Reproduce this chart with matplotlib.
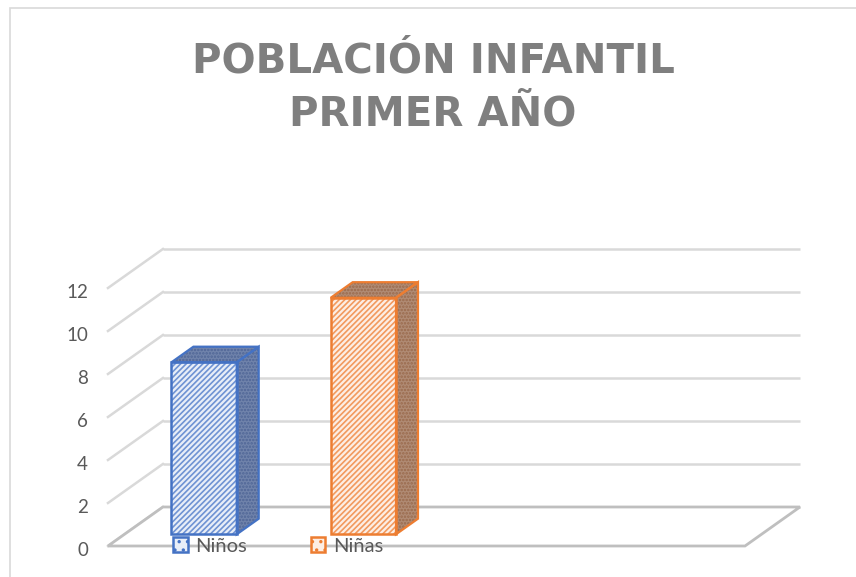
import matplotlib
matplotlib.use('Agg')
import matplotlib.pyplot as plt
from matplotlib.patches import Polygon, Rectangle, Patch

# data
categories = ['Niños', 'Niñas']
values = [8, 11]
yticks = [0, 2, 4, 6, 8, 10, 12]
title = 'POBLACIÓN INFANTIL\nPRIMER AÑO'

# style
edge_cols = ['#4472C4', '#ED7D31']
face_cols = ['#e8eef8', '#fdeee4']
hatch_cols = ['#6f93d3', '#f29a5e']
side_cols = ['#7083ab', '#b08b74']
side_hatch = ['#4f6596', '#9a6a4c']
grid_col = '#d9d9d9'
text_col = '#595959'

plt.rcParams['hatch.linewidth'] = 1.2

fig = plt.figure(figsize=(8.56, 5.77), dpi=100)
ax = fig.add_axes([0, 0, 1, 1])
ax.set_xlim(-0.678, 4.697)
ax.set_ylim(-1.442, 25.395)
ax.axis('off')

# 3d layout: floor goes from x=0..4 at front, depth offset DX, DY
X0, X1 = 0.0, 4.0
DX, DY = 0.345, 1.814
xpos = [0.5, 1.5]
bw = 0.41
d0, dd = 0.3, 0.4

# outer chart border
fig.patches.append(Rectangle((10 / 856, -0.1), 1.2, (577 - 8) / 577 + 0.1, transform=fig.transFigure,
                             fill=False, ec='#d9d9d9', lw=1.2))

# back wall gridlines and left wall diagonals
for v in yticks:
    ax.plot([X0 + DX, X1 + DX], [v + DY, v + DY], color=grid_col, lw=1.8, zorder=1, solid_capstyle='butt')
    ax.plot([X0, X0 + DX], [v, v + DY], color=grid_col, lw=1.8, zorder=1)
    ax.text(X0 - 0.125, v - 0.2, str(v), ha='right', va='center', fontsize=13.5, color=text_col, family='Lato')

# floor
floor = Polygon([(X0, 0), (X1, 0), (X1 + DX, DY), (X0 + DX, DY)], closed=True,
                fc='white', ec='#bfbfbf', lw=2.0, zorder=2)
ax.add_patch(floor)

# bars
for i, (x, v) in enumerate(zip(xpos, values)):
    xl = x - bw / 2 + d0 * DX
    xr = xl + bw
    yb = d0 * DY
    yt = v + d0 * DY
    ox, oy = dd * DX, dd * DY
    side = [(xr, yb), (xr + ox, yb + oy), (xr + ox, yt + oy), (xr, yt)]
    top = [(xl, yt), (xr, yt), (xr + ox, yt + oy), (xl + ox, yt + oy)]
    front = [(xl, yb), (xr, yb), (xr, yt), (xl, yt)]
    for pts in (side, top):
        ax.add_patch(Polygon(pts, closed=True, fc=side_cols[i], ec=side_hatch[i], lw=0, hatch='.....', zorder=3))
        ax.add_patch(Polygon(pts, closed=True, fill=False, ec=edge_cols[i], lw=1.6, zorder=4))
    ax.add_patch(Polygon(front, closed=True, fc=face_cols[i], ec=hatch_cols[i], lw=0, hatch='//////', zorder=3))
    ax.add_patch(Polygon(front, closed=True, fill=False, ec=edge_cols[i], lw=1.8, zorder=4))

# legend
handles = [Patch(fc=face_cols[i], ec=edge_cols[i], hatch='..', lw=1.8, label=c) for i, c in enumerate(categories)]
leg = fig.legend(handles=handles, loc='center left', bbox_to_anchor=(173 / 856, 1 - 546 / 577), ncol=2,
                 frameon=False, handlelength=0.72, handleheight=0.72, handletextpad=0.36,
                 columnspacing=3.2, borderpad=0, borderaxespad=0, prop={'family': 'Lato', 'size': 14.5})
for t in leg.get_texts():
    t.set_color(text_col)

# title
fig.text(433 / 856, 1 - 88 / 577, title, ha='center', va='center', fontsize=29, fontweight='bold',
         color='#7f7f7f', family='DejaVu Sans', linespacing=1.45)

plt.savefig('out.png', dpi=100, facecolor='white')
